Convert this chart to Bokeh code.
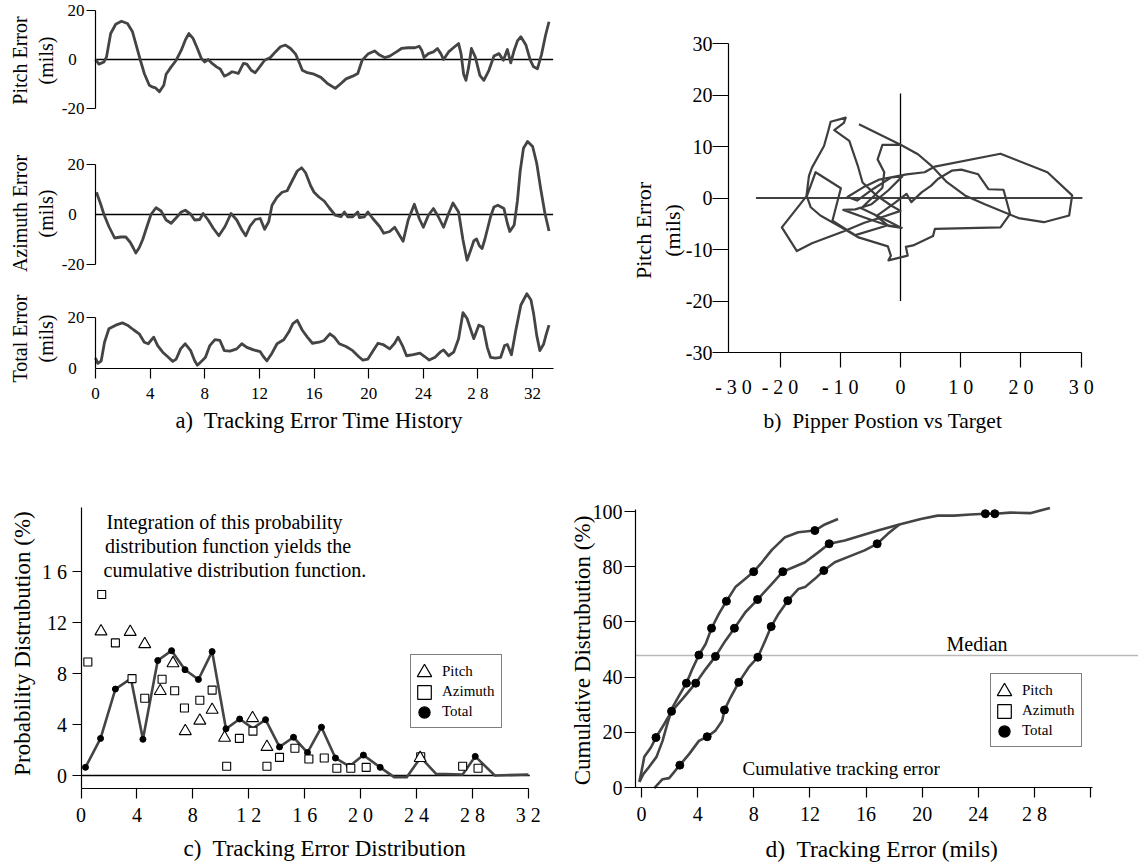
from math import pi, nan
from bokeh.plotting import figure
from bokeh.models import Range1d, FixedTicker, LinearAxis, Label, Legend, LegendItem
from bokeh.layouts import row, column
from bokeh.embed import file_html
from bokeh.resources import INLINE

FONT = "Liberation Serif"
INK = "#444444"
NB = "\u00a0"

# ------------------------------------------------------------------ data
# a) time histories: (time, error in mils)
time_ticks = [0, 4, 8, 12, 16, 20, 24, 28, 32]
time_tick_labels = ["0", "4", "8", "12", "16", "20", "24", "2 8", "32"]
zero_line_t = (0, 33.5)

pitch_hist = [(0, 0), (0.25, -1.9), (0.62, -1.0), (0.81, 1.1), (1.11, 10.6), (1.48, 14.4), (1.90, 15.6),
              (2.34, 14.7), (2.71, 11.3), (3.08, 3.8), (3.27, 0), (3.57, -5.7), (3.94, -10.5), (4.2, -11.3),
              (4.4, -11.6), (4.68, -13.2), (5.0, -10.5), (5.17, -6.0), (5.54, -3.0), (5.91, -0.3), (6.28, 3.8),
              (6.57, 7.9), (6.84, 10.6), (7.14, 8.6), (7.46, 4.5), (7.75, 0.4), (8.0, -1.0), (8.25, 0),
              (8.54, -1.6), (8.86, -3.0), (9.13, -3.9), (9.43, -6.8), (9.72, -6.0), (10.0, -5.0), (10.46, -5.7),
              (10.83, -1.6), (11.08, -1.9), (11.4, -4.4), (11.69, -5.4), (12.06, -2.7), (12.38, -0.3),
              (12.8, 0.8), (13.17, 3.1), (13.54, 5.2), (13.91, 5.9), (14.28, 4.5), (14.65, 2.2), (14.9, -1.0),
              (15.14, -4.4), (15.51, -5.4), (16.0, -6.0), (16.5, -7.3), (16.98, -9.8), (17.55, -11.8),
              (17.97, -9.8), (18.34, -7.9), (18.83, -6.8), (19.2, -5.7), (19.52, -0.3), (19.94, 2.2),
              (20.43, 3.5), (20.8, 1.8), (21.17, 0.8), (21.54, 1.4), (22.03, 3.1), (22.4, 4.5), (22.89, 4.8),
              (23.38, 4.8), (23.7, 5.4), (23.88, 3.8), (24.05, 0.8), (24.37, 2.4), (24.74, 3.1), (25.03, 4.5),
              (25.28, 2.4), (25.48, 0), (25.85, 3.1), (26.22, 4.9), (26.58, 6.5), (26.76, 2.4), (26.95, -6.0),
              (27.12, -8.5), (27.32, -3.0), (27.52, 4.5), (27.8, 1.1), (28.14, -6.5), (28.43, -8.5),
              (28.8, -4.4), (29.17, 1.4), (29.54, 2.4), (29.86, -0.3), (30.15, 4.1), (30.4, -1.4), (30.65, 3.8),
              (30.89, 7.6), (31.14, 9.3), (31.51, 5.9), (31.83, -0.3), (32.07, -3.0), (32.35, -3.8),
              (32.65, 2.0), (32.95, 10.0), (33.2, 15.4)]

azimuth_hist = [(0.07, 8.9), (0.37, 4.3), (0.62, 0), (0.98, -4.8), (1.40, -9.4), (1.85, -9.0), (2.22, -9.0),
                (2.54, -11.1), (2.78, -13.5), (2.95, -15.4), (3.2, -13.3), (3.45, -10.1), (3.69, -6.1),
                (4.06, 0), (4.43, 2.7), (4.8, 1.4), (5.17, -2.2), (5.54, -3.5), (5.91, -1.3), (6.28, 1.0),
                (6.57, 1.7), (6.97, 0.1), (7.26, -2.2), (7.63, -2.0), (7.88, 0.4), (8.25, -2.2), (8.62, -5.5),
                (9.03, -8.5), (9.48, -4.8), (9.92, 0.4), (10.34, -2.2), (10.71, -6.1), (11.0, -8.5),
                (11.32, -4.6), (11.69, -2.0), (12.06, -1.6), (12.38, -5.9), (12.68, -2.9), (12.92, 3.7),
                (13.29, 6.9), (13.66, 8.9), (14.03, 9.5), (14.4, 13.5), (14.77, 17.4), (15.09, 18.7),
                (15.38, 16.7), (15.75, 11.5), (16.0, 8.9), (16.37, 6.9), (16.74, 5.4), (17.11, 2.7),
                (17.55, -0.3), (17.97, -0.9), (18.22, 1.0), (18.46, -0.9), (18.83, -0.9), (19.2, 1.0),
                (19.32, -1.2), (19.69, -0.9), (19.94, 1.0), (20.3, -1.6), (20.8, -4.8), (21.1, -7.5),
                (21.54, -6.8), (21.9, -5.1), (22.23, -8.1), (22.52, -10.7), (22.89, -2.2), (23.34, 4.1),
                (23.7, -1.6), (24.0, -5.1), (24.37, -0.3), (24.74, 2.4), (25.1, -0.9), (25.48, -5.1),
                (25.85, 0.4), (26.17, 4.6), (26.58, 1.0), (26.9, -10.1), (27.2, -18.3), (27.45, -14.5),
                (27.7, -10.5), (27.9, -9.8), (28.1, -12.5), (28.3, -13.6), (28.5, -10.0), (28.68, -6.1),
                (28.92, -0.9), (29.17, 3.0), (29.46, 3.7), (29.9, 2.4), (30.15, -3.5), (30.33, -6.8),
                (30.65, -4.2), (30.89, 5.6), (31.09, 17.4), (31.33, 26.5), (31.63, 29.2), (32.0, 27.2),
                (32.3, 20.5), (32.6, 10.0), (32.9, 0.5), (33.2, -6.6)]

total_hist = [(0, 4.1), (0.17, 2.0), (0.42, 3.0), (0.66, 10.3), (0.98, 15.6), (1.48, 17.0), (1.97, 17.9),
              (2.34, 17.0), (2.78, 15.2), (3.2, 13.6), (3.57, 10.3), (3.86, 9.7), (4.26, 12.3), (4.55, 9.0),
              (4.92, 6.4), (5.29, 4.6), (5.66, 2.8), (5.91, 3.7), (6.23, 7.7), (6.57, 9.7), (6.97, 7.0),
              (7.26, 3.0), (7.46, 1.3), (7.8, 3.0), (8.05, 4.4), (8.37, 9.0), (8.74, 11.3), (9.11, 11.0),
              (9.43, 7.0), (9.85, 6.8), (10.34, 7.7), (10.71, 9.7), (11.08, 8.3), (11.57, 7.3), (12.06, 6.6),
              (12.3, 4.6), (12.55, 3.0), (12.92, 6.0), (13.29, 9.7), (13.78, 11.3), (14.15, 14.3),
              (14.45, 17.6), (14.77, 18.9), (15.14, 15.0), (15.51, 12.3), (15.88, 9.9), (16.37, 10.3),
              (16.74, 11.0), (17.16, 13.6), (17.48, 12.3), (17.85, 9.7), (18.34, 8.6), (18.83, 7.0),
              (19.28, 4.6), (19.57, 3.3), (19.94, 3.7), (20.3, 6.8), (20.68, 9.9), (21.05, 9.4), (21.54, 7.7),
              (21.9, 9.9), (22.15, 12.3), (22.47, 9.0), (22.77, 5.0), (23.26, 5.4), (23.75, 6.0), (24.12, 4.6),
              (24.43, 3.3), (24.86, 4.4), (25.23, 6.4), (25.48, 7.3), (25.85, 5.0), (26.22, 6.4), (26.58, 11.7),
              (26.9, 21.9), (27.2, 19.6), (27.69, 11.7), (28.06, 17.0), (28.38, 16.3), (28.68, 8.3),
              (28.92, 4.4), (29.29, 4.1), (29.66, 4.4), (29.95, 9.0), (30.15, 9.4), (30.45, 5.4), (30.77, 15.0),
              (31.14, 24.9), (31.58, 29.3), (31.88, 26.9), (32.07, 21.6), (32.3, 13.0), (32.53, 7.0),
              (32.8, 9.5), (33.0, 13.5), (33.2, 17.0)]

# b) pipper position (azimuth, pitch) in mils
pipper_x_ticks = [-20, -10, 0, 10, 20, 30]
pipper_x_labels = ["- 2 0", "- 1 0", "0", "1 0", "2 0", "3 0"]
pipper_y_ticks = [-30, -20, -10, 0, 10, 20, 30]
pipper_y_labels = ["-30", "-20", "-10", "0", "10", "20", "30"]
cross_h = (-24, 30.2)
cross_v = (-20, 20.3)
pipper_path = [(-6.9, 14.3), (0.1, 10.3), (2.9, 8.5), (5.1, 6.3), (7.6, 3.2), (10.7, 0.5), (14.0, -1.2),
               (19.6, -3.9), (23.8, -4.7), (28.0, -3.4), (28.5, 0.5), (24.4, 5.0), (16.6, 8.6), (5.7, 6.1),
               (4.0, 5.0), (1.0, 4.6), (-3.5, 3.6), (-6.0, 2.2), (-8.8, 0.2), (-7.2, -0.5), (-4.5, 1.8),
               (-1.5, 4.0), (0.3, 4.2), (-2.0, 1.5), (-4.8, -1.2), (-7.5, -2.2), (-9.5, -2.3), (-6.0, -3.8),
               (-2.5, -5.2), (0.2, -5.8), (-2.0, -5.4), (-4.0, -3.5), (-1.0, -1.0), (1.0, 0.8), (1.8, -0.8),
               (3.5, 1.1), (5.1, 2.4), (6.2, 3.7), (8.5, 5.3), (10.1, 5.5), (12.9, 4.6), (14.6, 1.7),
               (17.1, 1.6), (18.2, -3.1), (16.6, -5.7), (5.7, -6.0), (5.4, -7.4), (2.1, -9.2), (0.9, -9.5),
               (1.2, -11.2), (-2.0, -12.1), (-1.6, -11.2), (-2.1, -9.4), (-7.1, -7.6), (-9.4, -6.0),
               (-13.3, -3.4), (-14.9, -1.8), (-15.6, 0.5), (-15.2, 4.3), (-14.7, 5.9), (-12.7, 10.1),
               (-12.0, 13.0), (-11.6, 14.8), (-9.1, 15.6), (-9.4, 14.6), (-11.0, 13.2), (-8.5, 11.1),
               (-7.1, 6.3), (-6.3, 3.0), (-4.0, 0.5), (-1.5, -1.5), (0.0, -2.5), (-2.5, -3.5), (-6.0, -4.8),
               (-9.5, -6.5), (-14.7, -8.8), (-17.2, -10.3), (-19.7, -5.7), (-15.5, 0.5), (-14.1, 5.0),
               (-9.9, 1.9), (-11.3, -4.4), (-7.5, -7.2), (-2.1, -5.3), (0.0, -5.7), (-2.0, -4.5), (-6.5, -2.0),
               (-3.0, 2.0), (-2.7, 5.0), (-3.8, 7.5), (-3.0, 10.3), (0.0, 10.3)]

# c) probability distribution (%) vs tracking error (mils)
dist_x_ticks = [0, 4, 8, 12, 16, 20, 24, 28, 32]
dist_x_labels = ["0", "4", "8", "1 2", "1 6", "2 0", "2 4", "2 8", "3 2"]
dist_y_ticks = [0, 4, 8, 12, 16]
dist_y_labels = ["0", "4", "8", "12", "1 6"]
dist_zero_line = (0, 32.1)
dist_pitch = [(1.43, 11.3), (3.52, 11.26), (4.56, 10.3), (5.67, 6.62), (6.58, 8.8), (7.46, 3.48), (8.5, 4.3),
              (9.38, 5.15), (10.27, 2.96), (12.27, 4.5), (13.3, 2.24), (24.26, 1.37)]
dist_azimuth = [(0.49, 8.9), (1.48, 14.2), (2.46, 10.4), (3.65, 7.6), (4.56, 6.06), (5.8, 7.55), (6.7, 6.65),
                (7.4, 5.3), (8.5, 5.9), (9.38, 6.7), (10.42, 0.72), (11.33, 2.91), (12.3, 3.48), (13.3, 0.72),
                (14.2, 1.42), (15.3, 2.14), (16.3, 1.29), (17.4, 1.37), (18.3, 0.57), (19.3, 0.57),
                (20.4, 0.64), (24.3, 1.47), (27.3, 0.72), (28.4, 0.57)]
# (x, y, has_dot)
dist_total = [(0.32, 0.64, 1), (1.40, 2.91, 1), (2.46, 6.78, 1), (3.57, 7.6, 0), (4.43, 2.84, 1),
              (5.49, 9.02, 1), (6.48, 9.79, 1), (7.44, 8.30, 1), (8.40, 7.53, 1), (9.38, 9.72, 1),
              (10.37, 3.66, 1), (11.35, 4.43, 1), (12.3, 3.7, 0), (13.2, 4.38, 1), (14.2, 2.24, 1),
              (15.2, 3.0, 1), (16.2, 1.8, 1), (17.2, 3.79, 1), (18.2, 1.37, 1), (19.2, 0.72, 1), (20.2, 1.6, 1),
              (21.4, 0.64, 1), (22.4, -0.13, 0), (23.3, -0.13, 0), (24.3, 1.42, 0), (25.4, 0.13, 0),
              (27.3, 0.08, 0), (28.2, 1.5, 1), (29.6, 0.0, 0), (32.0, 0.08, 0)]

# d) cumulative distribution (%) vs tracking error (mils); (x, y, has_dot)
cum_x_ticks = [0, 4, 8, 12, 16, 20, 24, 28, 32]
cum_x_labels = ["0", "4", "8", "12", "16", "20", "24", "2 8", ""]
cum_y_ticks = [0, 20, 40, 60, 80, 100]
cum_y_labels = ["0", "20", "40", "60", "80", "100"]
median_level = 47.8
cum_curve_1 = [(-0.15, 2.06, 0), (0.13, 4.84, 0), (0.51, 7.26, 0), (1.07, 11.1, 0), (1.5, 16.9, 0),
               (1.85, 23.2, 0), (2.21, 29.0, 0), (2.68, 33.3, 0), (3.2, 37.8, 1), (3.62, 42.9, 0),
               (4.09, 48.0, 1), (4.57, 52.0, 0), (4.99, 57.7, 1), (5.51, 62.9, 0), (6.05, 67.5, 1),
               (6.69, 72.6, 0), (7.4, 75.6, 0), (7.99, 78.2, 1), (8.58, 81.6, 0), (9.29, 86.1, 0),
               (10.23, 90.7, 0), (11.17, 92.5, 0), (12.35, 93.1, 1), (13.06, 95.3, 0), (14.0, 97.3, 0)]
cum_curve_2 = [(-0.15, 2.06, 0), (0.01, 6.05, 0), (0.2, 11.1, 0), (0.67, 14.5, 0), (1.03, 18.1, 1),
               (1.62, 23.0, 0), (2.14, 27.6, 1), (2.91, 32.0, 0), (3.86, 37.8, 1), (4.57, 42.9, 0),
               (5.27, 47.5, 1), (5.98, 53.2, 0), (6.62, 57.7, 1), (7.4, 63.5, 0), (8.27, 68.1, 1),
               (9.29, 73.8, 0), (10.07, 78.2, 1), (10.82, 79.8, 0), (11.65, 81.6, 0), (12.59, 85.2, 0),
               (13.37, 88.3, 1), (14.48, 89.5, 0), (15.66, 91.3, 0), (16.84, 93.1, 0), (18.37, 95.3, 0),
               (19.9, 97.3, 0), (21.09, 98.5, 0), (22.27, 98.5, 0), (23.45, 98.9, 0), (24.5, 99.2, 1),
               (25.17, 99.2, 1), (26.28, 99.6, 0), (27.69, 99.4, 0), (29.1, 101.3, 0)]
cum_curve_3 = [(0.91, -0.24, 0), (1.5, 3.0, 0), (1.97, 3.4, 0), (2.73, 8.1, 1), (3.39, 12.1, 0),
               (4.09, 16.9, 0), (4.68, 18.4, 1), (5.27, 20.6, 0), (5.75, 24.2, 0), (5.91, 28.1, 1),
               (6.34, 32.6, 0), (6.93, 38.1, 1), (7.63, 43.5, 0), (8.29, 47.2, 1), (8.81, 53.2, 0),
               (9.24, 58.3, 1), (9.76, 62.9, 0), (10.42, 67.7, 1), (11.17, 71.9, 0), (11.65, 72.6, 0),
               (12.35, 75.6, 0), (12.99, 78.6, 1), (13.77, 81.6, 0), (14.95, 84.0, 0), (15.89, 85.9, 0),
               (16.79, 88.3, 1), (17.55, 91.9, 0), (18.37, 95.3, 0)]

legend_labels = ["Pitch", "Azimuth", "Total"]
legend_markers = [("triangle", "white"), ("square", "white"), ("circle", "black")]


# ------------------------------------------------------------------ helpers
def xs(pts):
    return [q[0] for q in pts]


def ys(pts):
    return [q[1] for q in pts]


class Panel:
    """Figure whose frame fills its canvas; px = x0 + sx*x, py = y0 - sy*y (page pixels)."""

    def __init__(self, ox, oy, w, h, x0, sx, y0, sy):
        self.ox, self.oy, self.w, self.h = ox, oy, w, h
        self.x0, self.sx, self.y0, self.sy = x0, sx, y0, sy
        p = figure(width=w, height=h,
                   x_range=Range1d(self.dx(ox), self.dx(ox + w)),
                   y_range=Range1d(self.dy(oy + h), self.dy(oy)),
                   output_backend="svg", toolbar_location=None, title=None,
                   x_axis_type=None, y_axis_type=None,
                   min_border_left=0, min_border_right=0, min_border_top=0, min_border_bottom=0)
        p.outline_line_color = None
        p.background_fill_color = "white"
        p.border_fill_color = "white"
        self.p = p

    def dx(self, px):
        return (px - self.x0) / self.sx

    def dy(self, py):
        return (self.y0 - py) / self.sy

    def text(self, px, py, s, size, align="left", angle=0.0, ydata=None):
        y = self.dy(py) if ydata is None else ydata
        self.p.add_layout(Label(x=self.dx(px), y=y, text=s, text_font=FONT,
                                text_font_size=f"{size}px", text_align=align,
                                text_baseline="middle", angle=angle, text_color="black"))

    def axis(self, side, loc, ticks, labels, size, out, standoff, bounds):
        ax = LinearAxis(fixed_location=loc, bounds=bounds, ticker=FixedTicker(ticks=list(ticks)),
                        major_label_overrides={t: s for t, s in zip(ticks, labels)})
        ax.axis_line_color = "black"
        ax.axis_line_width = 1.2
        ax.major_tick_line_color = "black"
        ax.major_tick_line_width = 1.2
        ax.major_tick_out = out
        ax.major_tick_in = 0
        ax.minor_tick_line_color = None
        ax.major_label_text_font = FONT
        ax.major_label_text_font_size = f"{size}px"
        ax.major_label_text_color = "black"
        ax.major_label_standoff = standoff
        self.p.add_layout(ax, side)

    def legend(self, left, top):
        pad, gw, gh = 6, 20, 20
        height = 2 * pad + 3 * gh
        bottom = self.oy + self.h
        ghosts = [self.p.scatter(x=[], y=[], marker="square", size=1, alpha=0) for _ in legend_labels]
        lg = Legend(items=[LegendItem(label=t, renderers=[g]) for t, g in zip(legend_labels, ghosts)],
                    location=(left - self.ox, bottom - (top + height)),
                    padding=pad, spacing=0, glyph_width=gw, glyph_height=gh, label_standoff=5, margin=0,
                    border_line_color="black", border_line_width=1, background_fill_color="white",
                    label_text_font=FONT, label_text_font_size="15px", label_text_color="black")
        self.p.add_layout(lg, "center")
        cx = left + 14
        for k, ((marker, fill), box) in enumerate(zip(legend_markers, (36, 34, 28))):
            cy = top + pad + gh / 2 + k * gh
            proxy = self.p.scatter(x=[nan], y=[nan], marker=marker, line_color="black",
                                   fill_color=fill, line_width=1.2)
            ov = Legend(items=[LegendItem(label=" ", renderers=[proxy])],
                        location=(cx - box / 2 - self.ox, bottom - (cy + box / 2)),
                        padding=0, spacing=0, glyph_width=box, glyph_height=box, label_standoff=0, margin=0,
                        border_line_color=None, background_fill_alpha=0, label_text_font_size="1px")
            self.p.add_layout(ov, "center")


# ------------------------------------------------------------------ a) time history
A1 = Panel(0, 0, 590, 135, 95, 13.66, 59, 2.45)
A2 = Panel(0, 135, 590, 147, 95, 13.66, 214, 2.5)
A3 = Panel(0, 282, 590, 158, 95, 13.66, 368, 2.55)

for pn, series in ((A1, pitch_hist), (A2, azimuth_hist)):
    pn.p.line(list(zero_line_t), [0, 0], line_color="black", line_width=1.3)
    pn.p.line(xs(series), ys(series), line_color=INK, line_width=2.8, line_join="round")
    pn.axis("left", 0, [-20, 20], ["-20", "20"], 17, 9, 2, (-20, 20))
    pn.text(72, None, "0", 17, "center", ydata=0)
A3.p.line(xs(total_hist), ys(total_hist), line_color=INK, line_width=2.8, line_join="round")
A3.axis("left", 0, [20], ["20"], 17, 9, 2, (0, 20))
A3.axis("below", 0, time_ticks, time_tick_labels, 17, 10, 5, zero_line_t)
A3.text(72, None, "0", 17, "center", ydata=0)

for pn, yc, name in ((A1, 60, "Pitch Error"), (A2, 213, "Azimuth Error"), (A3, 338, "Total Error")):
    pn.text(19, yc, name, 20, "center", angle=pi / 2)
    pn.text(45, yc, "(mils)", 20, "center", angle=pi / 2)
A3.text(175, 420, "a)" + NB + " Tracking Error Time History", 22.5)

# ------------------------------------------------------------------ b) pipper position
PB = Panel(590, 0, 548, 440, 900, 6.023, 197.5, 5.15)
yaxis_x = PB.dx(728)
PB.p.segment(x0=[cross_h[0], 0], y0=[0, cross_v[0]], x1=[cross_h[1], 0], y1=[0, cross_v[1]],
             line_color="black", line_width=1.3)
PB.p.line(xs(pipper_path), ys(pipper_path), line_color="#3e3e3e", line_width=2.2, line_join="round")
PB.axis("left", yaxis_x, pipper_y_ticks, pipper_y_labels, 20, 16, 0, (-30, 30))
PB.axis("below", -30, pipper_x_ticks, pipper_x_labels, 20, 15, 8, (yaxis_x, 30.1))
PB.text(733, 386, "- 3 0", 20, "center")
PB.text(643, 230, "Pitch Error", 22, "center", angle=pi / 2)
PB.text(672, 230, "(mils)", 22, "center", angle=pi / 2)
PB.text(763, 420, "b)" + NB + " Pipper Postion vs Target", 21.5)

# ------------------------------------------------------------------ c) distribution
PC = Panel(0, 440, 568, 425, 80.5, 13.98, 775, 12.75)
x_axis_c = PC.dy(788)
PC.p.line(list(dist_zero_line), [0, 0], line_color="black", line_width=1.3)
PC.p.line(xs(dist_total), ys(dist_total), line_color=INK, line_width=2.6, line_join="round")
dots = [q for q in dist_total if q[2]]
PC.p.scatter(xs(dots), ys(dots), marker="circle", size=6, color="black")
PC.p.scatter(xs(dist_azimuth), ys(dist_azimuth), marker="square", size=8, line_color="black",
             fill_color="white", line_width=1.1)
PC.p.scatter(xs(dist_pitch), ys(dist_pitch), marker="triangle", size=12, line_color="black",
             fill_color="white", line_width=1.1)
PC.axis("left", 0, dist_y_ticks, dist_y_labels, 20, 9, 5, (x_axis_c, PC.dy(507)))
PC.axis("below", x_axis_c, dist_x_ticks, dist_x_labels, 20, 10, 5, (0, 32))
PC.text(22, 643, "Probability Distrubution (%)", 23, "center", angle=pi / 2)
PC.text(106, 521, "Integration of this probability", 20)
PC.text(104.5, 545, "distribution function yields the", 20)
PC.text(103, 569, "cumulative distribution function.", 20)
PC.text(183, 848, "c)" + NB + " Tracking Error Distribution", 23)
PC.legend(410, 656)

# ------------------------------------------------------------------ d) cumulative
PD = Panel(568, 440, 570, 425, 641, 14.036, 787, 2.76)
y_axis_d = PD.dx(635)
PD.p.line([y_axis_d, PD.dx(1138)], [median_level, median_level], line_color="#b9b9b9", line_width=1.6)
for curve in (cum_curve_1, cum_curve_2, cum_curve_3):
    PD.p.line(xs(curve), ys(curve), line_color=INK, line_width=2.6, line_join="round")
for curve in (cum_curve_1, cum_curve_2, cum_curve_3):
    d = [q for q in curve if q[2]]
    PD.p.scatter(xs(d), ys(d), marker="circle", size=8, color="black")
PD.axis("left", y_axis_d, cum_y_ticks, cum_y_labels, 20, 11, 2, (0, 100.7))
PD.axis("below", 0, cum_x_ticks, cum_x_labels, 20, 10, 5, (y_axis_d, 32.1))
PD.text(582, 650, "Cumulative Distrubution (%)", 23, "center", angle=pi / 2)
PD.text(946, 643, "Median", 20)
PD.text(742, 768, "Cumulative tracking error", 19)
PD.text(765, 848, "d)" + NB + " Tracking Error (mils)", 23.5)
PD.legend(990, 675)

layout = column(row(column(A1.p, A2.p, A3.p), PB.p), row(PC.p, PD.p))
open("out.html", "w").write(file_html(layout, INLINE, "Tracking error"))
